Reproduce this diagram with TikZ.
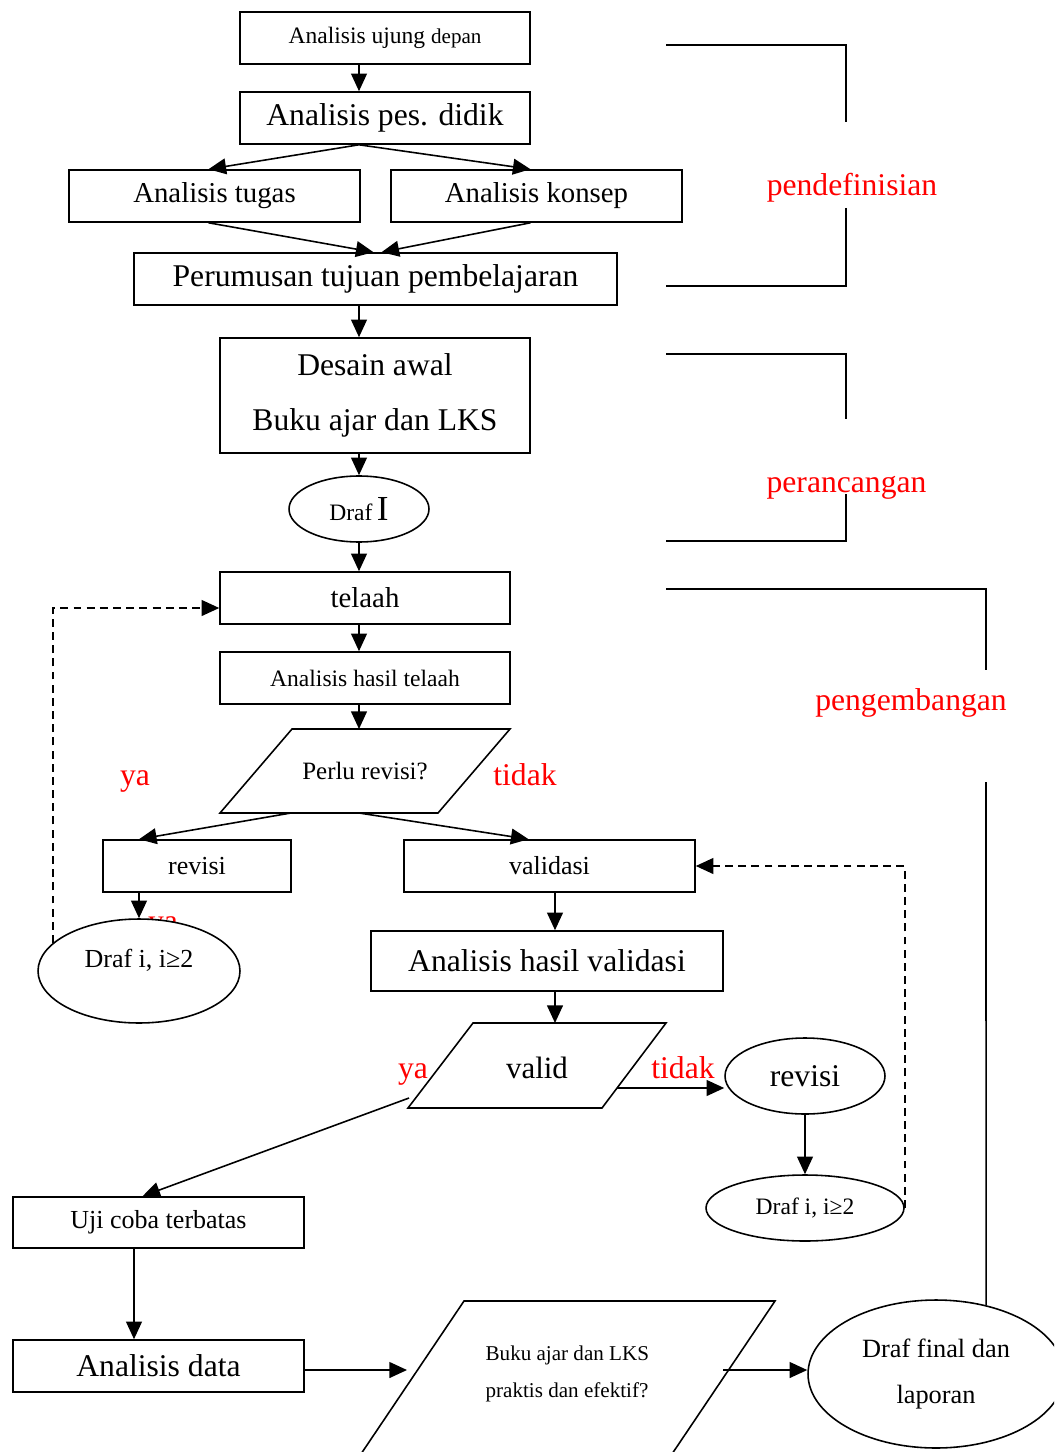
\documentclass[tikz,border=0pt]{standalone}
\usepackage{fontspec}
\setmainfont{Liberation Serif}
\usepackage{tikz}
\usetikzlibrary{arrows.meta,calc,shapes.geometric}
\tikzset{
  fc diagram/.style={x=0.02cm, y=-0.02cm, line width=0.9pt},
  fc box/.style={draw, rectangle, inner sep=0pt, align=center},
  fc oval/.style={draw, ellipse, inner sep=0pt, align=center, fill=white},
  fc arrow/.style={-{Triangle[length=10pt,width=9pt]}},
  fc back/.style={fc arrow, dash pattern=on 4.5pt off 3pt},
  fc tag/.style={text=red, font=\fontsize{18}{21}\selectfont},
  fc big/.style={font=\fontsize{18}{21}\selectfont},
  fc mid/.style={font=\fontsize{16.4}{19}\selectfont},
  fc norm/.style={font=\fontsize{14.8}{18}\selectfont},
  fc small/.style={font=\fontsize{13.4}{16}\selectfont}
}

\begin{document}
\begin{tikzpicture}[fc diagram]
\useasboundingbox (0,0) rectangle (1054,1452);
\clip (0,0) rectangle (1054,1452);
\coordinate (axis) at (359,0);
\coordinate (vcol) at (555,0);
\coordinate (lcol) at (134,0);

% pendefinisian
\node[fc box,fc small,minimum width=5.8cm,minimum height=1.04cm] (ujung) at (385,38)
  {Analisis ujung {\fontsize{12}{14}\selectfont depan}};
\node[fc box,fc big,minimum width=5.8cm,minimum height=1.04cm] (pes) at (385,118) {Analisis pes. didik};
\node[fc box,fc mid,minimum width=5.82cm,minimum height=1.04cm] (tugas) at (214.5,196) {Analisis tugas};
\node[fc box,fc mid,minimum width=5.82cm,minimum height=1.04cm] (konsep) at (536.5,196) {Analisis konsep};
\node[fc box,fc big,minimum width=9.66cm,minimum height=1.04cm] (rumusan) at (375.5,279) {Perumusan tujuan pembelajaran};

% perancangan
\node[fc box,font=\fontsize{18}{31}\selectfont,minimum width=6.2cm,minimum height=2.3cm] (desain) at (375,395.5)
  {Desain awal\\Buku ajar dan LKS};
\node[fc oval,minimum width=2.8cm,minimum height=1.32cm] (draf1) at (359,509)
  {{\fontsize{13.4}{16}\selectfont Draf} {\fontsize{20}{22}\selectfont I}};

% pengembangan
\node[fc box,fc mid,minimum width=5.8cm,minimum height=1.04cm] (telaah) at (365,598) {telaah};
\node[fc box,fc small,minimum width=5.8cm,minimum height=1.04cm] (hasilT) at (365,678) {Analisis hasil telaah};
\coordinate (perluT) at (359,729);
\coordinate (perluL) at (291,813);
\coordinate (perluR) at (359,813);
\draw (292,729) -- (510,729) -- (438,813) -- (220,813) -- cycle;
\node[font=\fontsize{14.2}{17}\selectfont] (perlu) at (365,771) {Perlu revisi?};
\node[fc tag,anchor=base] (ya1) at (135,785) {ya};
\node[fc tag,anchor=base] (tidak1) at (525,785) {tidak};
\node[fc box,fc norm,minimum width=3.76cm,minimum height=1.04cm] (revisiA) at (197,866) {revisi};
\node[fc box,fc norm,minimum width=5.82cm,minimum height=1.04cm] (validasi) at (549.5,866) {validasi};
\node[fc tag,anchor=base] (ya0) at (163,931) {ya};
\node[fc oval,minimum width=4.04cm,minimum height=2.08cm] (drafA) at (139,971) {};
\node[fc norm] (drafAtext) at (139,960) {Draf i, i≥2};
\node[fc box,fc big,minimum width=7.04cm,minimum height=1.2cm] (hasilV) at (547,961) {Analisis hasil validasi};
\coordinate (validT) at (555,1023);
\coordinate (validR) at (617,1088);
\coordinate (validL) at (409,1098);
\draw (473,1023) -- (666,1023) -- (602,1108) -- (408,1108) -- cycle;
\node[font=\fontsize{17.6}{21}\selectfont] (valid) at (537,1068) {valid};
\node[fc tag,anchor=base] (ya2) at (413,1078) {ya};
\node[fc tag,anchor=base] (tidak2) at (683,1078) {tidak};
\node[fc oval,fc big,minimum width=3.2cm,minimum height=1.52cm] (revisiB) at (805,1076) {revisi};
\node[fc oval,fc small,minimum width=3.96cm,minimum height=1.32cm] (drafB) at (805,1208) {Draf i, i≥2};
\node[fc box,fc norm,minimum width=5.82cm,minimum height=1.02cm] (uji) at (158.5,1222.5) {Uji coba terbatas};
\node[fc box,fc big,minimum width=5.82cm,minimum height=1.04cm] (data) at (158.5,1366) {Analisis data};
\coordinate (bukuL) at (407,1370);
\coordinate (bukuR) at (723,1370);
\draw (330,1500) -- (464,1301) -- (775,1301) -- (641,1500);
\node[font=\fontsize{12}{21}\selectfont,align=left,anchor=west] (buku) at (479,1374)
  {Buku ajar dan LKS\\praktis dan efektif?};
\node[fc oval,font=\fontsize{15}{26}\selectfont,minimum width=5.12cm,minimum height=2.96cm] (drafFinal) at (936,1374)
  {Draf final dan\\laporan};

% tahap
\node[fc tag,anchor=base] (tahap1) at (852,196) {pendefinisian};
\node[fc tag,anchor=base] (tahap2) at (846.5,492) {perancangan};
\node[fc tag,anchor=base] (tahap3) at (911,710) {pengembangan};
\draw (666,45) -| (846,122);
\draw (846,208) |- (666,286);
\draw (666,354) -| (846,419);
\draw (846,494) |- (666,541);
\draw (666,589) -| (986,670);
\draw (986,782) -- (drafFinal.54);

% alur
\draw[fc arrow] (ujung.south -| axis) -- (pes.north -| axis);
\draw[fc arrow] (pes.south -| axis) -- ($(tugas.north)+(-6,0)$);
\draw[fc arrow] (pes.south -| axis) -- ($(konsep.north)+(-6,0)$);
\draw[fc arrow] ($(tugas.south)+(-6,0)$) -- ($(rumusan.north)+(-2,0)$);
\draw[fc arrow] ($(konsep.south)+(-6,0)$) -- ($(rumusan.north)+(6,0)$);
\draw[fc arrow] (rumusan.south -| axis) -- (desain.north -| axis);
\draw[fc arrow] (desain.south -| axis) -- (draf1.north);
\draw[fc arrow] (draf1.south) -- (telaah.north -| axis);
\draw[fc arrow] (telaah.south -| axis) -- (hasilT.north -| axis);
\draw[fc arrow] (hasilT.south -| axis) -- (perluT);
\draw[fc arrow] (perluL) -- (revisiA.north -| drafA);
\draw[fc arrow] (perluR) -- ($(validasi.north)+(-21,0)$);
\draw[fc arrow] (revisiA.south -| drafA) -- (drafA.north);
\draw[fc back] (drafA.162) |- ($(telaah.west)+(0,10)$);
\draw[fc arrow] (validasi.south -| vcol) -- (hasilV.north -| vcol);
\draw[fc arrow] (hasilV.south -| vcol) -- (validT);
\draw[fc arrow] (validR) -- (validR -| revisiB.west);
\draw[fc arrow] (revisiB.south) -- (drafB.north);
\draw[fc back] (drafB.east) |- (validasi.east);
\draw[fc arrow] (validL) -- ($(uji.north)+(-16,0)$);
\draw[fc arrow] (uji.south -| lcol) -- (data.north -| lcol);
\draw[fc arrow] (data.east |- bukuL) -- (bukuL);
\draw[fc arrow] (bukuR) -- (bukuR -| drafFinal.west);
\end{tikzpicture}
\end{document}
